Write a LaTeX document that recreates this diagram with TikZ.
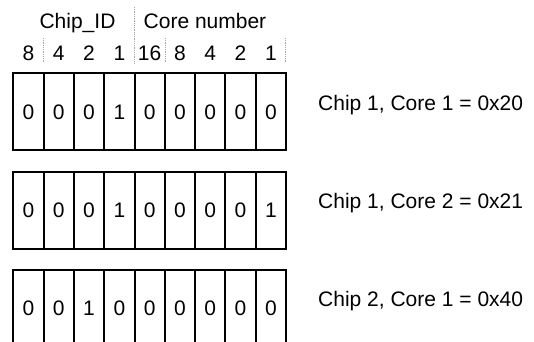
\documentclass[tikz,border=0pt]{standalone}
\usepackage{fontspec}
\setmainfont{Liberation Sans}
\begin{document}
\begin{tikzpicture}[x=1pt,y=-1pt,
  txt/.style={font=\fontsize{21}{25}\selectfont, inner sep=0pt},
  cell/.style={txt, draw, line width=2pt, minimum width=30.3pt, minimum height=77pt, outer sep=0pt, anchor=north west},
  sep/.style={draw=gray!70, line width=0.7pt, dash pattern=on 0.7pt off 1.1pt}]
\useasboundingbox (0,0) rectangle (534,341);
\clip (0,0) rectangle (534,341);
% header
\node[txt, anchor=base] (chipid) at (77.5,28.3) {Chip\_ID};
\node[txt, anchor=base] (corenum) at (205,28.3) {Core number};
\foreach \w [count=\i] in {8,4,2,1,16,8,4,2,1} {
  \node[txt, anchor=base] (w\i) at ({13.3+30.3*(\i-0.5)},60) {\w};
}
% separators
\coordinate (s1a) at (43.6,38); \coordinate (s1b) at (43.6,63);
\coordinate (s2a) at (134.5,7); \coordinate (s2b) at (134.5,63);
\coordinate (s3a) at (165,38); \coordinate (s3b) at (165,63);
\coordinate (s4a) at (285.7,38); \coordinate (s4b) at (285.7,63);
\draw[sep] (s1a) -- (s1b);
\draw[sep] (s2a) -- (s2b);
\draw[sep] (s3a) -- (s3b);
\draw[sep] (s4a) -- (s4b);
% rows
\foreach \bits/\top/\lab [count=\r] in {
  {0,0,0,1,0,0,0,0,0}/73.3/{Chip 1, Core 1 = 0x20},
  {0,0,0,1,0,0,0,0,1}/171.5/{Chip 1, Core 2 = 0x21},
  {0,0,1,0,0,0,0,0,0}/270/{Chip 2, Core 1 = 0x40}} {
  \foreach \b [count=\i] in \bits {
    \node[cell] (c\r-\i) at ({13.3+30.3*(\i-1)},\top) {\b};
  }
  \node[txt, anchor=base west] (lab\r) at (318,\top+36.8) {\lab};
}
\end{tikzpicture}
\end{document}
